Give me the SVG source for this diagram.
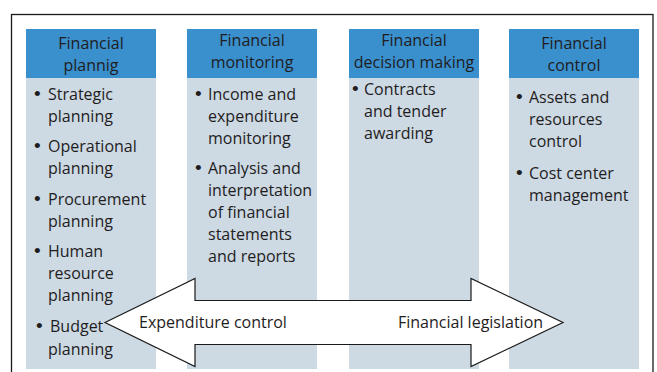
<svg xmlns="http://www.w3.org/2000/svg" width="657" height="372" viewBox="0 0 657 372">
<style>
.hd{fill:#3a8fcd}
.bd{fill:#cdd9e3}
text{font-family:"Open Sans","Liberation Sans",sans-serif;font-size:16px;fill:#1f1d1e}
.c{text-anchor:middle}
.b{font-family:"Liberation Sans",sans-serif;font-size:19px}
</style>
<rect x="0" y="0" width="657" height="372" fill="#ffffff"/>
<rect x="11.5" y="14.5" width="641.5" height="370" fill="none" stroke="#1a1a1a" stroke-width="1.3"/>
<g id="col1">
<rect class="bd" x="26" y="78" width="130" height="291"/>
<rect class="hd" x="26" y="29" width="130" height="49"/>
<text class="c" x="91" y="49">Financial</text>
<text class="c" x="91" y="71">plannig</text>
<text class="b" x="34" y="100">•</text><text x="48" y="100">Strategic</text>
<text x="48" y="122">planning</text>
<text class="b" x="34" y="152">•</text><text x="48" y="152">Operational</text>
<text x="48" y="174">planning</text>
<text class="b" x="34" y="205">•</text><text x="48" y="205">Procurement</text>
<text x="48" y="227">planning</text>
<text class="b" x="34" y="257">•</text><text x="48" y="257">Human</text>
<text x="48" y="279">resource</text>
<text x="48" y="301">planning</text>
<text class="b" x="36" y="332">•</text><text x="50" y="332">Budget</text>
<text x="48" y="355">planning</text>
</g>
<g id="col2">
<rect class="bd" x="187" y="78" width="130" height="291"/>
<rect class="hd" x="187" y="29" width="130" height="49"/>
<text class="c" x="252" y="46">Financial</text>
<text class="c" x="252" y="68">monitoring</text>
<text class="b" x="195" y="100">•</text><text x="208" y="100">Income and</text>
<text x="208" y="122">expenditure</text>
<text x="208" y="144">monitoring</text>
<text class="b" x="195" y="174">•</text><text x="208" y="174">Analysis and</text>
<text x="208" y="196">interpretation</text>
<text x="208" y="218">of financial</text>
<text x="208" y="240">statements</text>
<text x="208" y="262">and reports</text>
</g>
<g id="col3">
<rect class="bd" x="349" y="78" width="130" height="291"/>
<rect class="hd" x="349" y="29" width="130" height="49"/>
<text class="c" x="414" y="46">Financial</text>
<text class="c" x="414" y="68">decision making</text>
<text class="b" x="352" y="95">•</text><text x="364" y="95">Contracts</text>
<text x="364" y="117">and tender</text>
<text x="364" y="139">awarding</text>
</g>
<g id="col4">
<rect class="bd" x="509" y="78" width="130" height="291"/>
<rect class="hd" x="509" y="29" width="130" height="49"/>
<text class="c" x="574" y="49">Financial</text>
<text class="c" x="574" y="71">control</text>
<text class="b" x="516" y="103">•</text><text x="529" y="103">Assets and</text>
<text x="529" y="125">resources</text>
<text x="529" y="147">control</text>
<text class="b" x="516" y="179">•</text><text x="529" y="179">Cost center</text>
<text x="529" y="201">management</text>
</g>
<g id="connectors">
<path d="M105,322.5 L195,278.5 L195,300.5 L471,300.5 L471,278.5 L563,322.5 L471,366.5 L471,344.5 L195,344.5 L195,366.5 Z" fill="#ffffff" stroke="#1a1a1a" stroke-width="1.2" stroke-linejoin="miter"/>
<text x="139" y="328">Expenditure control</text>
<text x="398" y="328">Financial legislation</text>
</g>
</svg>
